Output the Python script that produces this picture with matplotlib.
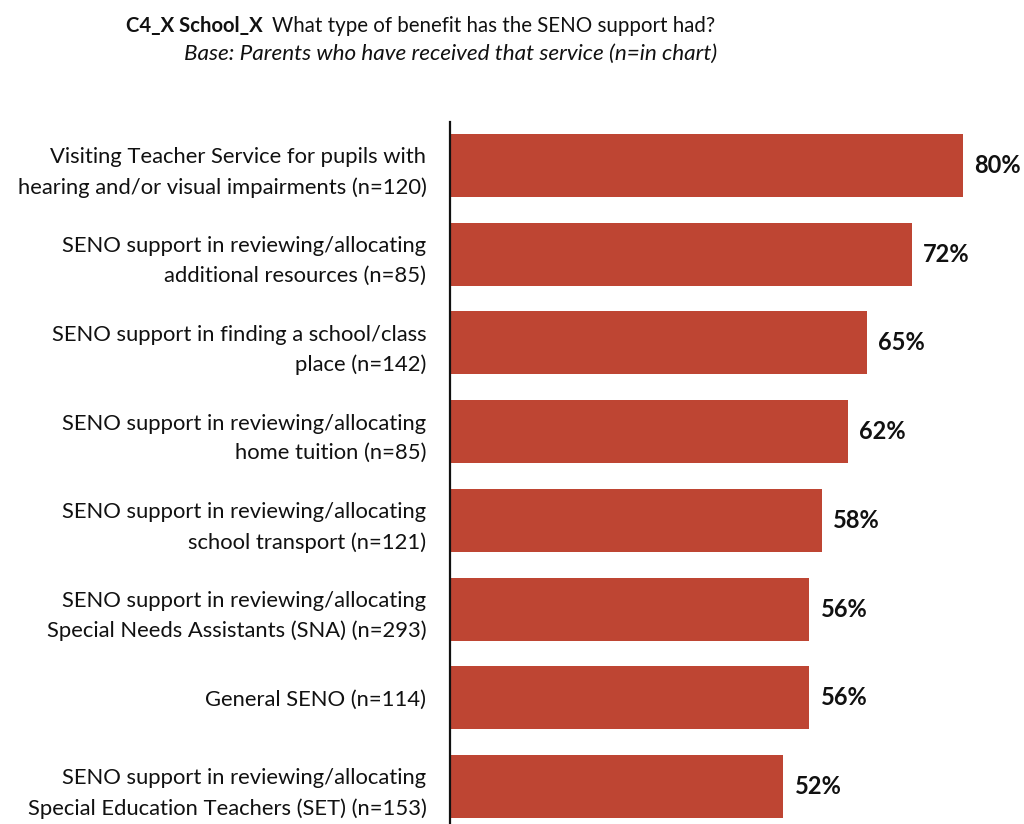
import matplotlib.pyplot as plt

plt.rcParams['font.family'] = ['Lato', 'DejaVu Sans']

# Survey results, top to bottom
categories = [
    "Visiting Teacher Service for pupils with\nhearing and/or visual impairments (n=120)",
    "SENO support in reviewing/allocating\nadditional resources (n=85)",
    "SENO support in finding a school/class\nplace (n=142)",
    "SENO support in reviewing/allocating\nhome tuition (n=85)",
    "SENO support in reviewing/allocating\nschool transport (n=121)",
    "SENO support in reviewing/allocating\nSpecial Needs Assistants (SNA) (n=293)",
    "General SENO (n=114)",
    "SENO support in reviewing/allocating\nSpecial Education Teachers (SET) (n=153)",
]
values = [80, 72, 65, 62, 58, 56, 56, 52]

bar_color = '#BE4533'

fig = plt.figure(figsize=(10.24, 8.24), dpi=100)
ax = fig.add_axes([450 / 1024, 0, 545 / 1024, 702 / 824])

ypos = list(range(len(categories)))
ax.barh(ypos, values, height=0.71, color=bar_color)

for y, v in zip(ypos, values):
    ax.text(v + 1.8, y, f"{v}%", va='center', ha='left',
            fontsize=17, fontweight='bold', color='#111111')

ax.set_xlim(0, 85)
ax.set_ylim(7.42, -0.49)
ax.set_yticks(ypos)
ax.set_yticklabels(categories, fontsize=15.8, color='#111111', linespacing=1.6)
ax.tick_params(axis='y', length=0, pad=17)
ax.set_xticks([])

for side in ['top', 'right', 'bottom']:
    ax.spines[side].set_visible(False)
ax.spines['left'].set_linewidth(1.6)
ax.spines['left'].set_color('#111111')

# Title: bold code followed by the question, then the base line in italics
fig.text(263 / 1024, 1 - 26 / 824, "C4_X School_X", ha='right', va='center',
         fontsize=14.6, fontweight='bold', color='#111111')
fig.text(272 / 1024, 1 - 26 / 824, "What type of benefit has the SENO support had?",
         ha='left', va='center', fontsize=14.8, color='#111111')
fig.text(451 / 1024, 1 - 54 / 824, "Base: Parents who have received that service (n=in chart)",
         ha='center', va='center', fontsize=16.2, style='italic', color='#111111')

fig.savefig('out.png', dpi=100)
